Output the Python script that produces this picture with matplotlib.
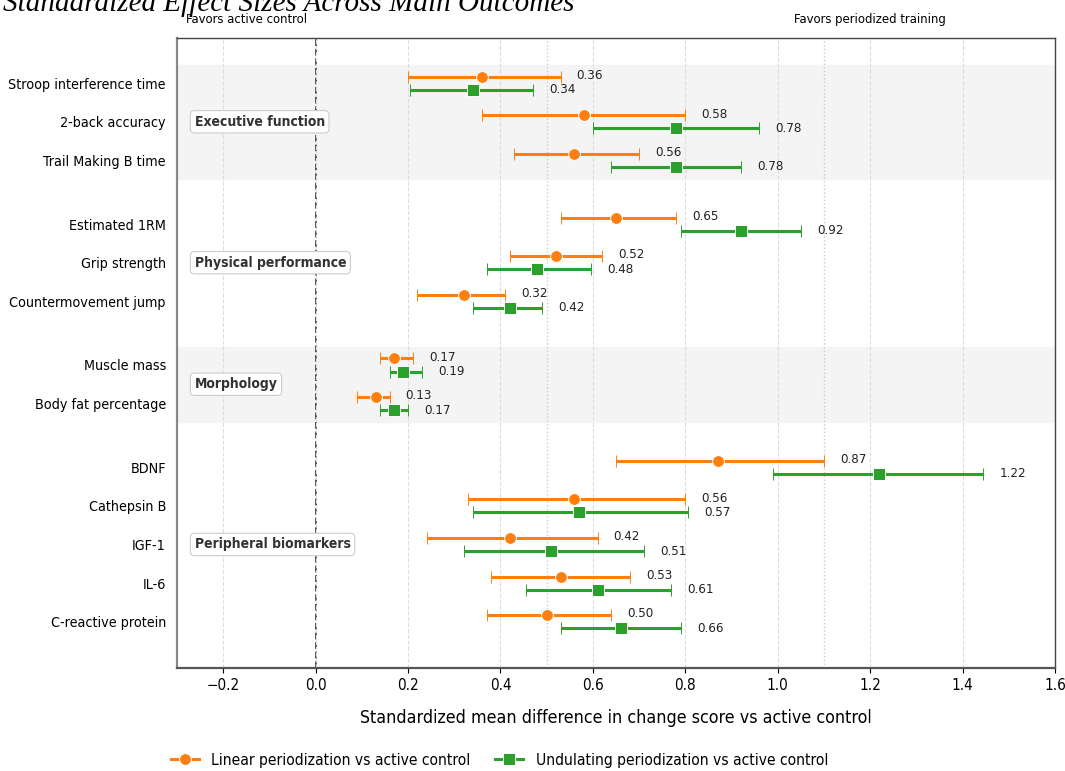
import matplotlib.pyplot as plt
import matplotlib.transforms as mtransforms
from matplotlib.lines import Line2D
import numpy as np

# outcome names, grouped by domain
groups = ["Executive function", "Physical performance", "Morphology", "Peripheral biomarkers"]
outcomes = [
    ["Stroop interference time", "2-back accuracy", "Trail Making B time"],
    ["Estimated 1RM", "Grip strength", "Countermovement jump"],
    ["Muscle mass", "Body fat percentage"],
    ["BDNF", "Cathepsin B", "IGF-1", "IL-6", "C-reactive protein"],
]

# linear periodization vs active control: SMD and 95% CI
linear_est = [0.36, 0.58, 0.56, 0.65, 0.52, 0.32, 0.17, 0.13, 0.87, 0.56, 0.42, 0.53, 0.50]
linear_lo = [0.20, 0.36, 0.43, 0.53, 0.42, 0.22, 0.14, 0.09, 0.65, 0.33, 0.24, 0.38, 0.37]
linear_hi = [0.53, 0.80, 0.70, 0.78, 0.62, 0.41, 0.21, 0.16, 1.10, 0.80, 0.61, 0.68, 0.64]

# undulating periodization vs active control
undul_est = [0.34, 0.78, 0.78, 0.92, 0.48, 0.42, 0.19, 0.17, 1.22, 0.57, 0.51, 0.61, 0.66]
undul_lo = [0.205, 0.60, 0.64, 0.79, 0.37, 0.34, 0.16, 0.14, 0.99, 0.34, 0.32, 0.455, 0.53]
undul_hi = [0.47, 0.96, 0.92, 1.05, 0.595, 0.49, 0.23, 0.20, 1.445, 0.805, 0.71, 0.77, 0.79]

ORANGE = "#ff7f0e"
GREEN = "#2ca02c"

plt.rcParams["font.family"] = ["DejaVu Sans"]
plt.rcParams["font.stretch"] = "condensed"

# y positions: one unit per outcome, extra gap between domains
gap = 0.65
ypos = []
group_pos = []
y = 0.0
for names in outcomes:
    pos = [y + k for k in range(len(names))]
    ypos.extend(pos)
    group_pos.append(pos)
    y = pos[-1] + 1 + gap
ypos = np.array(ypos)
labels = [n for names in outcomes for n in names]

fig = plt.figure(figsize=(10.65, 7.71), dpi=100)
ax = fig.add_axes([0.1662, 0.1336, 0.8244, 0.8171])

# shaded bands for alternate domains
for gi, pos in enumerate(group_pos):
    if gi % 2 == 0:
        ax.axhspan(pos[0] - 0.47, pos[-1] + 0.47, color="#f4f4f4", zorder=0)

ax.grid(axis="x", linestyle="--", color="#dddddd", linewidth=0.8, zorder=0.5)
for ref in (0.5, 1.1):
    ax.axvline(ref, linestyle=":", color="#cccccc", linewidth=1.0, zorder=0.5)
ax.axvline(0, linestyle="--", color="#444444", linewidth=1.3, zorder=1)

off = 0.17
lin = np.array(linear_est)
und = np.array(undul_est)
ax.errorbar(lin, ypos - off,
            xerr=[lin - np.array(linear_lo), np.array(linear_hi) - lin],
            fmt="o", color=ORANGE, ecolor=ORANGE, elinewidth=2.2, capsize=4, capthick=1.5,
            markersize=8.5, markeredgecolor="white", markeredgewidth=0.7, zorder=3)
ax.errorbar(und, ypos + off,
            xerr=[und - np.array(undul_lo), np.array(undul_hi) - und],
            fmt="s", color=GREEN, ecolor=GREEN, elinewidth=2.2, capsize=4, capthick=1.5,
            markersize=8, markeredgecolor="white", markeredgewidth=0.7, zorder=3)

for yy, v, hi in zip(ypos, linear_est, linear_hi):
    ax.text(hi + 0.035, yy - off - 0.03, f"{v:.2f}", va="center", ha="left", fontsize=9.5, color="#222222")
for yy, v, hi in zip(ypos, undul_est, undul_hi):
    ax.text(hi + 0.035, yy + off, f"{v:.2f}", va="center", ha="left", fontsize=9.5, color="#222222")

for name, pos in zip(groups, group_pos):
    ax.text(-0.262, np.mean(pos), name, ha="left", va="center", fontsize=10, fontweight="bold",
            color="#333333", zorder=4,
            bbox=dict(boxstyle="round,pad=0.3", fc="white", ec="#cccccc", lw=0.8))

ax.set_yticks(ypos)
ax.set_yticklabels(labels, fontsize=10.3)
ax.tick_params(axis="y", length=0, pad=8)
ax.tick_params(axis="x", labelsize=11)
ax.set_xlim(-0.3, 1.6)
ax.set_xticks(np.arange(-0.2, 1.61, 0.2))
ax.set_ylim(15.15, -1.17)
ax.set_xlabel("Standardized mean difference in change score vs active control", fontsize=12.8, labelpad=12)

for side, sp in ax.spines.items():
    sp.set_color("#444444")
    sp.set_linewidth(1.0)
ax.spines["left"].set_color("#888888")
ax.spines["left"].set_linewidth(1.6)
ax.spines["bottom"].set_color("#555555")
ax.spines["bottom"].set_linewidth(1.6)

trans = mtransforms.blended_transform_factory(ax.transData, ax.transAxes)
ax.text(-0.15, 1.03, "Favors active control", transform=trans, ha="center", va="center", fontsize=9.4)
ax.text(1.2, 1.03, "Favors periodized training", transform=trans, ha="center", va="center", fontsize=9.4)

fig.text(0.003, 1 - 11 / 771, "Standardized Effect Sizes Across Main Outcomes",
         family=["Liberation Serif", "DejaVu Serif"], style="italic", fontsize=21, va="baseline")

handles = [
    Line2D([], [], color=ORANGE, marker="o", linewidth=2.2, markersize=8.5,
           markeredgecolor="white", markeredgewidth=0.7),
    Line2D([], [], color=GREEN, marker="s", linewidth=2.2, markersize=8,
           markeredgecolor="white", markeredgewidth=0.7),
]
fig.legend(handles, ["Linear periodization vs active control", "Undulating periodization vs active control"],
           loc="center", bbox_to_anchor=(0.469, 0.014), ncol=2, frameon=False, fontsize=11.2,
           handlelength=1.8, columnspacing=1.6)

fig.savefig("out.png", dpi=100)
plt.close(fig)
